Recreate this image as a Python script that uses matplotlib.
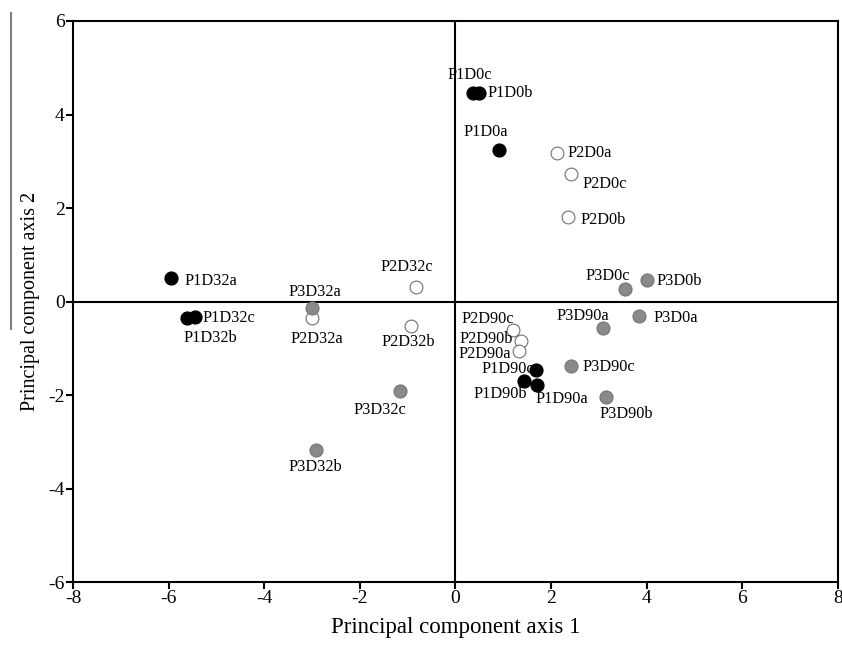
import matplotlib.pyplot as plt
from matplotlib.lines import Line2D

plt.rcParams['font.family'] = ['Liberation Serif', 'DejaVu Serif']
plt.rcParams['axes.unicode_minus'] = False

# PCA scores
p1_names = ['P1D0c', 'P1D0b', 'P1D0a', 'P1D32a', 'P1D32c', 'P1D32b', 'P1D90c', 'P1D90b', 'P1D90a']
p1_x = [0.37, 0.50, 0.91, -5.94, -5.45, -5.62, 1.69, 1.44, 1.71]
p1_y = [4.47, 4.47, 3.24, 0.50, -0.33, -0.35, -1.47, -1.70, -1.79]

p2_names = ['P2D0a', 'P2D0c', 'P2D0b', 'P2D32c', 'P2D32a', 'P2D32b', 'P2D90c', 'P2D90b', 'P2D90a']
p2_x = [2.12, 2.42, 2.36, -0.82, -2.99, -0.92, 1.21, 1.37, 1.34]
p2_y = [3.17, 2.72, 1.80, 0.30, -0.35, -0.52, -0.61, -0.84, -1.06]

p3_names = ['P3D0c', 'P3D0b', 'P3D0a', 'P3D32a', 'P3D32c', 'P3D32b', 'P3D90a', 'P3D90c', 'P3D90b']
p3_x = [3.55, 4.00, 3.85, -2.99, -1.16, -2.92, 3.09, 2.41, 3.16]
p3_y = [0.27, 0.47, -0.30, -0.13, -1.91, -3.18, -0.56, -1.38, -2.04]

# label placement: (dx, dy) in pixels and horizontal alignment
label_pos = {
    'P1D0c': (-3, 18, 'center'), 'P1D0b': (8, 0, 'left'), 'P1D0a': (-13, 18, 'center'),
    'P1D32a': (13, -3, 'left'), 'P1D32c': (8, -1, 'left'), 'P1D32b': (-3, -20, 'left'),
    'P1D90c': (-2, 1, 'right'), 'P1D90b': (3, -13, 'right'), 'P1D90a': (-2, -14, 'left'),
    'P2D0a': (11, 0, 'left'), 'P2D0c': (11, -10, 'left'), 'P2D0b': (12, -3, 'left'),
    'P2D32c': (-9, 20, 'center'), 'P2D32a': (4, -21, 'center'), 'P2D32b': (-3, -16, 'center'),
    'P2D90c': (1, 11, 'right'), 'P2D90b': (-8, 2, 'right'), 'P2D90a': (-8, -3, 'right'),
    'P3D0c': (-17, 13, 'center'), 'P3D0b': (10, -1, 'left'), 'P3D0a': (14, -2, 'left'),
    'P3D32a': (2, 16, 'center'), 'P3D32c': (-20, -19, 'center'), 'P3D32b': (-1, -17, 'center'),
    'P3D90a': (-20, 12, 'center'), 'P3D90c': (12, -1, 'left'), 'P3D90b': (20, -17, 'center'),
}

fig = plt.figure(figsize=(8.42, 6.46), dpi=100)
ax = fig.add_axes([0.0867, 0.099, 0.9083, 0.8685])

ax.axhline(0, color='black', lw=1.5, zorder=1)
ax.axvline(0, color='black', lw=1.5, zorder=1)

ax.scatter(p1_x, p1_y, s=85, color='black', zorder=3)
ax.scatter(p2_x, p2_y, s=85, facecolor='white', edgecolor='#707070', linewidth=0.8, zorder=3)
ax.scatter(p3_x, p3_y, s=85, color='#8a8a8a', edgecolor='#7a7a7a', zorder=3)

for names, xs, ys in [(p1_names, p1_x, p1_y), (p2_names, p2_x, p2_y), (p3_names, p3_x, p3_y)]:
    for n, x, y in zip(names, xs, ys):
        dx, dy, ha = label_pos[n]
        ax.annotate(n, (x, y), xytext=(dx, dy), textcoords='offset pixels',
                    ha=ha, va='center', fontsize=11.7, zorder=4)

ax.set_xlim(-8, 8)
ax.set_ylim(-6, 6)
ax.set_xticks(range(-8, 9, 2))
ax.set_yticks(range(-6, 7, 2))
ax.tick_params(direction='out', length=5, width=1.5, labelsize=14, pad=1)
for s in ax.spines.values():
    s.set_linewidth(1.5)

ax.set_xlabel('Principal component axis 1', fontsize=16.5, labelpad=7)
ax.set_ylabel('Principal component axis 2', fontsize=14.5, labelpad=6)

# stray scan line to the left of the y label
fig.add_artist(Line2D([11 / 842, 11 / 842], [1 - 13 / 646, 1 - 329 / 646], color='#808080', lw=1.5))

plt.savefig('out.png', dpi=100)
